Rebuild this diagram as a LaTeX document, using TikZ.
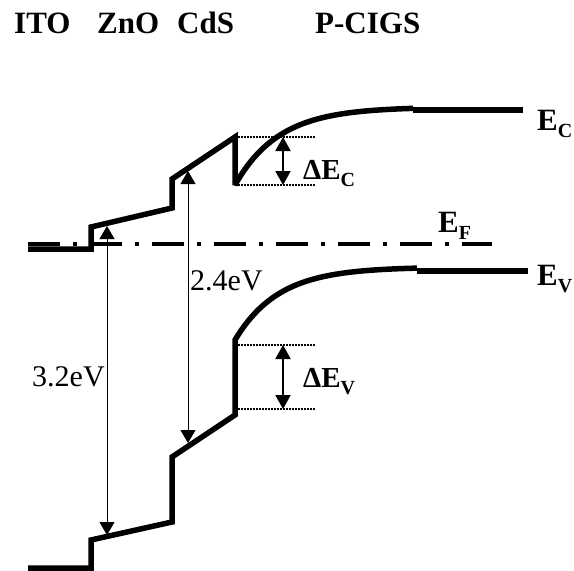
\documentclass[tikz,border=0pt]{standalone}
\usepackage{fontspec}
\setmainfont{Liberation Serif}
\usetikzlibrary{arrows.meta}
\newcommand{\lowsub}[1]{\raisebox{-7pt}{\fontsize{20}{20}\selectfont #1}}
\begin{document}
\begin{tikzpicture}[x=1pt,y=-1pt,
  band/.style={line width=5.5pt, line join=miter, miter limit=3},
  gap/.style={line width=1pt, {Triangle[length=13pt,width=15pt]}-{Triangle[length=13pt,width=15pt]}},
  offs/.style={line width=2pt, {Triangle[length=14pt,width=15pt]}-{Triangle[length=14pt,width=15pt]}},
  dots/.style={line width=1.5pt, dash pattern=on 1.5pt off 1.5pt},
  fermi/.style={line width=4pt, dash pattern=on 32pt off 13pt on 4pt off 13pt},
  lab/.style={font=\fontsize{31}{31}\selectfont\bfseries, inner sep=0pt, anchor=base west},
  dlab/.style={font=\fontsize{29}{29}\selectfont\bfseries, inner sep=0pt, anchor=base west},
  val/.style={font=\fontsize{30}{30}\selectfont, inner sep=0pt, anchor=base west}]
\useasboundingbox (0,0) rectangle (574,571);

% Fermi level
\coordinate (fl) at (28,244);
\coordinate (fr) at (492,244);
\draw[fermi] (fl) -- (fr);

% conduction band
\draw[band] (28,249) -- (91,249) -- (91,227) -- (172,208) -- (172,179) -- (235,137) -- (235,185)
  -- plot[domain=235:413, samples=80] (\x,{107+78*exp(-(\x-235)/44)});
\draw[band] (413,110) -- (523,110);

% valence band
\draw[band] (28,568) -- (91,568) -- (91,540) -- (172,522) -- (172,457) -- (235,415) -- (235,340)
  -- plot[domain=235:417, samples=80] (\x,{267+73*exp(-(\x-235)/43.6)});
\draw[band] (417,271) -- (528,271);

% offsets (dotted)
\coordinate (c1) at (235,137); \coordinate (c1e) at (315,137);
\coordinate (c2) at (235,185); \coordinate (c2e) at (315,185);
\coordinate (v1) at (235,345); \coordinate (v1e) at (315,345);
\coordinate (v2) at (235,409); \coordinate (v2e) at (315,409);
\draw[dots] (c1) -- (c1e);
\draw[dots] (c2) -- (c2e);
\draw[dots] (v1) -- (v1e);
\draw[dots] (v2) -- (v2e);

% arrows
\coordinate (g1t) at (107,226); \coordinate (g1b) at (107,535);
\coordinate (g2t) at (188,171); \coordinate (g2b) at (188,443);
\coordinate (dct) at (283,137); \coordinate (dcb) at (283,185);
\coordinate (dvt) at (283,345); \coordinate (dvb) at (283,409);
\draw[gap] (g1t) -- (g1b);
\draw[gap] (g2t) -- (g2b);
\draw[offs] (dct) -- (dcb);
\draw[offs] (dvt) -- (dvb);

% labels
\node[lab] (ito) at (14,33) {ITO};
\node[lab] (zno) at (97,33) {ZnO};
\node[lab] (cds) at (177,33) {CdS};
\node[lab] (cigs) at (315,33) {P-CIGS};
\node[lab] (ec) at (537,130) {E\lowsub{C}};
\node[lab] (ef) at (438,232) {E\lowsub{F}};
\node[lab] (ev) at (537,285) {E\lowsub{V}};
\node[dlab] (dec) at (303,179) {ΔE\lowsub{C}};
\node[dlab] (dev) at (303,387) {ΔE\lowsub{V}};
\node[val] (g32) at (32,386) {3.2eV};
\node[val] (g24) at (190,290) {2.4eV};
\end{tikzpicture}
\end{document}
